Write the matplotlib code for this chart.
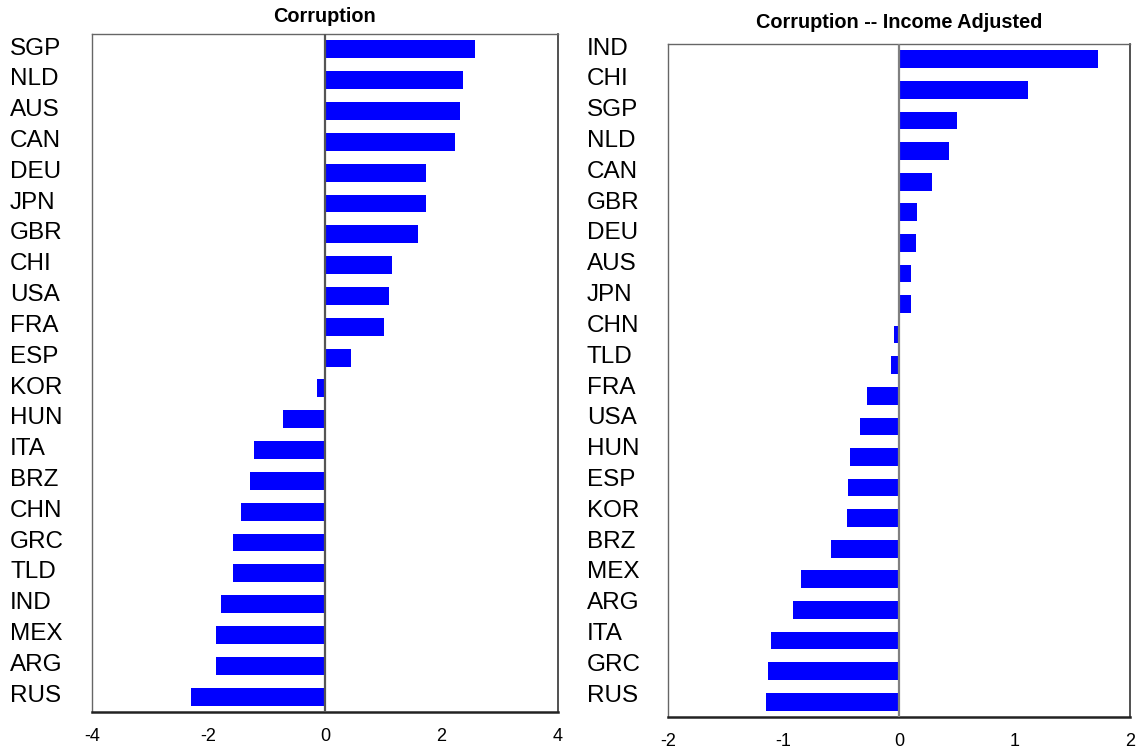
import matplotlib
matplotlib.use("Agg")
import matplotlib.pyplot as plt

plt.rcParams['font.family'] = ['Liberation Sans', 'DejaVu Sans']

# raw corruption index, sorted high to low
raw_countries = ['SGP', 'NLD', 'AUS', 'CAN', 'DEU', 'JPN', 'GBR', 'CHI', 'USA', 'FRA', 'ESP',
                 'KOR', 'HUN', 'ITA', 'BRZ', 'CHN', 'GRC', 'TLD', 'IND', 'MEX', 'ARG', 'RUS']
raw_values = [2.58, 2.37, 2.31, 2.23, 1.73, 1.73, 1.60, 1.15, 1.10, 1.01, 0.45,
              -0.14, -0.72, -1.22, -1.29, -1.44, -1.58, -1.58, -1.79, -1.87, -1.87, -2.30]

# residual after controlling for income
adj_countries = ['IND', 'CHI', 'SGP', 'NLD', 'CAN', 'GBR', 'DEU', 'AUS', 'JPN', 'CHN', 'TLD',
                 'FRA', 'USA', 'HUN', 'ESP', 'KOR', 'BRZ', 'MEX', 'ARG', 'ITA', 'GRC', 'RUS']
adj_values = [1.72, 1.12, 0.50, 0.435, 0.29, 0.16, 0.15, 0.10, 0.10, -0.04, -0.07,
              -0.275, -0.335, -0.42, -0.44, -0.45, -0.59, -0.85, -0.92, -1.11, -1.13, -1.15]

panels = [
    ('Corruption', raw_countries, raw_values, (-4, 4), [-4, -2, 0, 2, 4],
     [92 / 1142, 1 - 712 / 749, 466 / 1142, 678 / 749], 8.5, '#555555', 59),
    ('Corruption -- Income Adjusted', adj_countries, adj_values, (-2, 2), [-2, -1, 0, 1, 2],
     [668 / 1142, 1 - 717 / 749, 462 / 1142, 673 / 749], 11.5, '#808080', 58.5),
]

fig = plt.figure(figsize=(11.42, 7.49), dpi=100)

first_ax = None
for title, names, vals, xlim, xticks, rect, tpad, zcol, lpad in panels:
    ax = fig.add_axes(rect)
    if first_ax is None:
        first_ax = ax
    n = len(names)
    ypos = list(range(n, 0, -1))
    ax.barh(ypos, vals, height=0.58, color='#0000ff', zorder=2)
    ax.axvline(0, color=zcol, lw=1.6, zorder=3)
    ax.set_xlim(*xlim)
    ax.set_ylim(0.5, n + 0.5)
    ax.set_xticks(xticks)
    ax.set_xticklabels([str(t) for t in xticks])
    ax.set_yticks([])
    ax.tick_params(axis='x', length=0, pad=11.5, labelsize=13)

    # country names share the row positions of the first panel
    for name, y in zip(names, ypos):
        ax.annotate(name, xy=(0, y), xycoords=(ax.transAxes, first_ax.transData),
                    xytext=(-lpad, 2.4), textcoords='offset points',
                    ha='left', va='center_baseline', fontsize=17.5,
                    annotation_clip=False)

    for side in ['top', 'left']:
        ax.spines[side].set_color('#666666')
        ax.spines[side].set_linewidth(1.0)
    ax.spines['right'].set_color('#333333')
    ax.spines['right'].set_linewidth(1.2)
    ax.spines['bottom'].set_color('#222222')
    ax.spines['bottom'].set_linewidth(1.8)
    ax.set_title(title, fontsize=14.3, fontweight='bold', pad=tpad)

fig.savefig('out.png', dpi=100)
